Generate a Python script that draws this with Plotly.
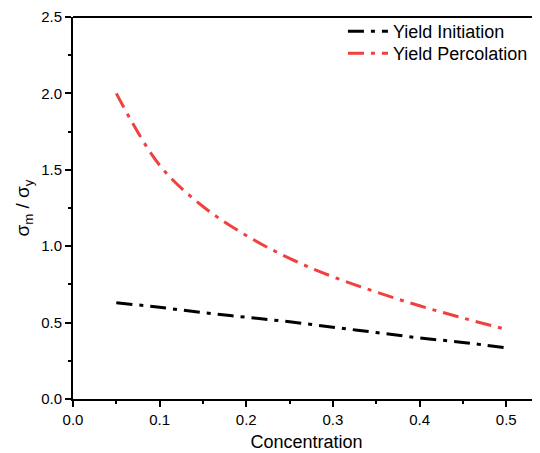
import plotly.graph_objects as go

conc = [0.05, 0.10, 0.15, 0.20, 0.25, 0.30, 0.35, 0.40, 0.45, 0.50]
yield_initiation = [0.63, 0.60, 0.565, 0.535, 0.505, 0.47, 0.435, 0.40, 0.37, 0.335]
yield_percolation = [2.00, 1.53, 1.26, 1.07, 0.92, 0.80, 0.70, 0.61, 0.53, 0.455]

fig = go.Figure()
fig.add_trace(go.Scatter(x=conc, y=yield_initiation, mode="lines", name="Yield Initiation",
                         line=dict(color="black", width=3, dash="16px,7px,4px,7px", shape="spline"),
                         legend="legend", showlegend=True))
fig.add_trace(go.Scatter(x=conc, y=yield_percolation, mode="lines", name="Yield Percolation",
                         line=dict(color="#F04040", width=3, dash="16px,7px,4px,7px", shape="spline"),
                         legend="legend2", showlegend=True))

axis_common = dict(showline=True, linecolor="black", linewidth=2, ticks="outside",
                   ticklen=6, tickwidth=2, tickcolor="black", showgrid=False, zeroline=False,
                   tickfont=dict(size=15, color="black"), ticklabeloverflow="allow")

fig.update_xaxes(range=[0, 0.539], dtick=0.1, tick0=0, tickformat=".1f",
                 minor=dict(ticks="outside", ticklen=3, tickwidth=2, tickcolor="black", dtick=0.05),
                 title=dict(text="Concentration", font=dict(size=18, color="black"), standoff=8),
                 **axis_common)
fig.update_yaxes(range=[0, 2.5], dtick=0.5, tick0=0, tickformat=".1f",
                 minor=dict(ticks="outside", ticklen=3, tickwidth=2, tickcolor="black", dtick=0.25),
                 title=dict(text="σ<sub>m</sub> / σ<sub>y</sub>", font=dict(size=19, color="black"), standoff=6),
                 **axis_common)

# top frame line
fig.add_shape(type="line", xref="paper", yref="paper", x0=0, x1=1, y0=1, y1=1,
              line=dict(color="black", width=2))

leg_common = dict(xanchor="left", yanchor="middle", bgcolor="rgba(0,0,0,0)",
                  font=dict(size=18, color="black"), itemwidth=40, visible=True)

fig.update_layout(
    width=532, height=445,
    showlegend=True,
    margin=dict(l=65, r=0, t=7, b=54),
    paper_bgcolor="white", plot_bgcolor="white",
    font=dict(family="Liberation Sans, Arial, sans-serif", color="black"),
    legend=dict(x=0.578, y=0.962, **leg_common),
    legend2=dict(x=0.578, y=0.904, **leg_common),
)

fig.write_html("out.html")
